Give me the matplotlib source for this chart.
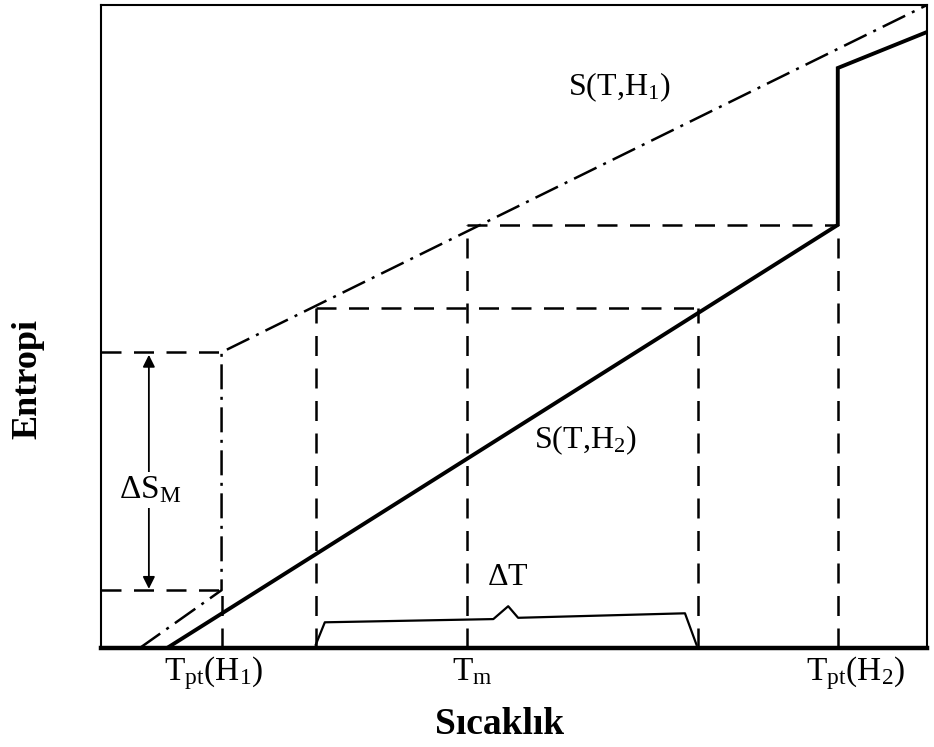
import matplotlib.pyplot as plt

plt.rcParams['font.family'] = ['Liberation Serif', 'DejaVu Serif']
plt.rcParams['mathtext.fontset'] = 'custom'
plt.rcParams['mathtext.rm'] = 'Liberation Serif'
plt.rcParams['mathtext.it'] = 'Liberation Serif:italic'
plt.rcParams['mathtext.bf'] = 'Liberation Serif:bold'

# eğriler (keyfi birimler, 0-100)
T_h1 = [4.7, 14.6, 14.6, 100.0]
S_h1 = [0.0, 9.0, 46.0, 100.0]
T_h2 = [8.0, 89.2, 89.2, 100.0]
S_h2 = [0.0, 65.8, 90.2, 95.8]

# önemli sıcaklıklar ve entropiler
T_pt1 = 14.6
T_sol = 26.0
T_m = 44.3
T_sag = 72.3
T_pt2 = 89.2
S_alt = 9.0
S_ust = 46.0
S_orta = 52.9
S_yuksek = 65.8

# ΔT parantezi
T_dT = [26.0, 27.1, 47.5, 49.3, 50.5, 70.7, 72.1]
S_dT = [0.5, 4.0, 4.5, 6.5, 4.7, 5.4, 0.5]

etiketler = [r'$\mathrm{T_{pt}(H_1)}$', r'$\mathrm{T_m}$', r'$\mathrm{T_{pt}(H_2)}$']
etiket_x = [13.6, 45.0, 91.3]

fig = plt.figure(figsize=(9.34, 7.47), dpi=100)
ax = fig.add_axes([0.1081, 0.1325, 0.8844, 0.8608])
ax.set_xlim(0, 100)
ax.set_ylim(0, 100)

kesik = (0, (8, 5))
nokta = (0, (10, 3, 1.2, 3))
lw_k = 1.8

# S(T,H1) kesik-noktalı
ax.plot(T_h1, S_h1, color='black', lw=1.8, linestyle=nokta)
# S(T,H2) kalın
ax.plot(T_h2, S_h2, color='black', lw=2.8, solid_joinstyle='miter')

# yatay kesikli çizgiler
ax.plot([0, T_pt1], [S_ust, S_ust], 'k', lw=lw_k, linestyle=kesik)
ax.plot([0, T_pt1], [S_alt, S_alt], 'k', lw=lw_k, linestyle=kesik)
ax.plot([T_m, T_pt2], [S_yuksek, S_yuksek], 'k', lw=lw_k, linestyle=kesik)
ax.plot([T_sol, T_sag], [S_orta, S_orta], 'k', lw=lw_k, linestyle=kesik)

# dikey kesikli çizgiler
ax.plot([T_pt1, T_pt1], [0, S_alt], 'k', lw=lw_k, linestyle=kesik)
ax.plot([T_sol, T_sol], [0, S_orta], 'k', lw=lw_k, linestyle=kesik)
ax.plot([T_m, T_m], [0, S_yuksek], 'k', lw=lw_k, linestyle=kesik)
ax.plot([T_sag, T_sag], [0, S_orta], 'k', lw=lw_k, linestyle=kesik)
ax.plot([T_pt2, T_pt2], [0, S_yuksek], 'k', lw=lw_k, linestyle=kesik)

# ΔS_M oku
ax.annotate('', xy=(5.8, S_ust - 0.4), xytext=(5.8, S_alt + 0.2),
            arrowprops=dict(arrowstyle='<|-|>', color='black', lw=1.3,
                            mutation_scale=18, shrinkA=0, shrinkB=0))
ax.text(5.9, 24.6, r'$\mathrm{\Delta S_M}$', fontsize=24, ha='center', va='center',
        bbox=dict(facecolor='white', edgecolor='none', pad=2))

# ΔT
ax.plot(T_dT, S_dT, color='black', lw=1.6)
ax.text(49.3, 10.9, r'$\mathrm{\Delta T}$', fontsize=23, ha='center', va='center')

ax.text(62.8, 87.2, r'$\mathrm{S(T{,}H_1)}$', fontsize=23, ha='center', va='center')
ax.text(58.6, 32.3, r'$\mathrm{S(T{,}H_2)}$', fontsize=23, ha='center', va='center')

for x, t in zip(etiket_x, etiketler):
    ax.text(x, -5.0, t, fontsize=24, ha='center', va='baseline', clip_on=False)

ax.set_xticks([])
ax.set_yticks([])
for k in ['left', 'right', 'top']:
    ax.spines[k].set_linewidth(1.5)
ax.spines['bottom'].set_linewidth(3.2)

fig.text(500 / 934, 1 - 725 / 747, 'Sıcaklık', fontsize=27, fontweight='bold',
         ha='center', va='center')
fig.text(28 / 934, 1 - 379 / 747, 'Entropi', fontsize=26, fontweight='bold',
         ha='center', va='center', rotation=90)

fig.savefig('out.png', dpi=100)
